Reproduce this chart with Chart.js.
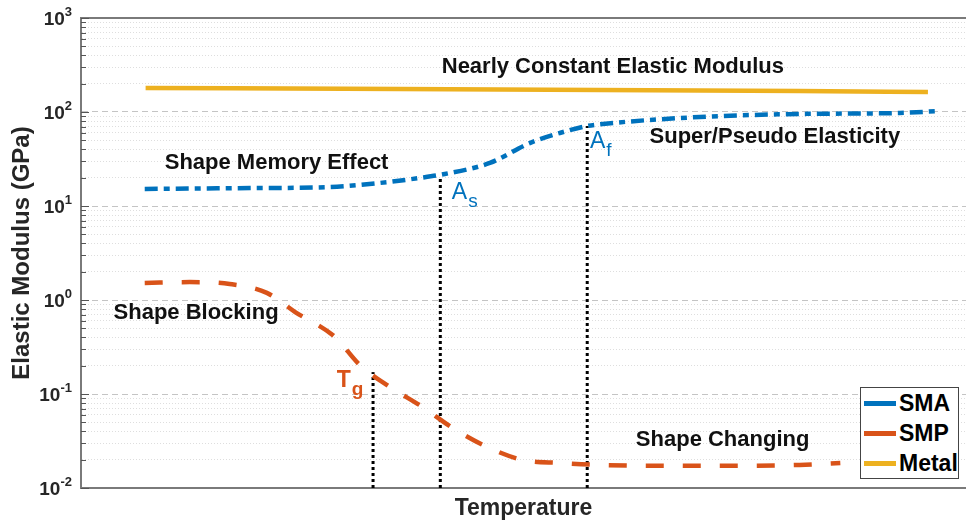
<!DOCTYPE html>
<html lang="en">
<head>
<meta charset="UTF-8">
<title>Elastic Modulus vs Temperature</title>
<script src="https://cdn.jsdelivr.net/npm/chart.js"></script>
<style>
    body { margin: 0; background: #fff; }
    #wrap { position: relative; width: 966px; height: 525px; }
    #legend {
        position: absolute; left: 860px; top: 387px; width: 97px; height: 90px;
        border: 1px solid #444; background: #fff;
        font: bold 23px "Liberation Sans", Arial, sans-serif; color: #000;
    }
    .item { display: flex; align-items: center; height: 30px; }
    .swatch { width: 32px; height: 5px; margin: 0 3px 0 3px; }
</style>
</head>
<body>
<div id="wrap">
    <canvas id="modulus-chart"></canvas>
    <div id="legend"></div>
</div>
<script>
    // temperature axis is unitless (0..100), moduli in GPa
    const metalT = [7.3, 36, 81.2, 95.7];
    const metalE = [180, 176, 167, 163];

    const smaT = [7.2, 19.1, 28.1, 33.8, 38.3, 41.1, 46.2, 50.7, 54.1, 57.2, 58.6, 69.9, 81.2, 92.5, 96.6];
    const smaE = [15.2, 15.5, 15.9, 17.6, 19.9, 21.9, 28.7, 46.7, 59.8, 71, 74, 88.5, 95.3, 97.6, 102];

    const smpT = [7.2, 12.3, 16.8, 21.0, 24.2, 28.7, 31.5, 34.9, 38.6, 42.0, 45.9, 49.9, 54.1, 58.6, 69.9, 81.2, 85.8];
    const smpE = [1.52, 1.55, 1.48, 1.19, 0.745, 0.404, 0.204, 0.119, 0.0727, 0.0435, 0.0273, 0.0199, 0.0185, 0.0176, 0.0172, 0.0176, 0.0185];

    // transition temperatures (dotted drop lines)
    const markerT = [33.0, 40.6, 57.2];
    const markerTop = [0.171, 20.8, 71];

    const yExponents = [-2, -1, 0, 1, 2, 3];
    const legendNames = ['SMA', 'SMP', 'Metal'];
    const colors = { SMA: '#0072BD', SMP: '#D95319', Metal: '#EDB120' };

    const FONT = '"Liberation Sans", Arial, sans-serif';
    Chart.defaults.font.family = FONT;

    function pts(xs, ys) {
        return xs.map((x, i) => ({ x: x, y: ys[i] }));
    }

    function isMajor(v) {
        const l = Math.log10(v);
        return Math.abs(l - Math.round(l)) < 1e-6;
    }

    // all log grid positions (decades + 2..9 in between)
    const yGridValues = [];
    yExponents.forEach((e, i) => {
        yGridValues.push(Math.pow(10, e));
        if (i < yExponents.length - 1) {
            for (let k = 2; k <= 9; k++) yGridValues.push(k * Math.pow(10, e));
        }
    });

    const datasets = [
        {
            label: 'SMA', data: pts(smaT, smaE), borderColor: colors.SMA,
            borderWidth: 4.5, borderDash: [13, 6, 6, 6], cubicInterpolationMode: 'monotone'
        },
        {
            label: 'SMP', data: pts(smpT, smpE), borderColor: colors.SMP,
            borderWidth: 4.5, borderDash: [18, 19], cubicInterpolationMode: 'monotone'
        },
        {
            label: 'Metal', data: pts(metalT, metalE), borderColor: colors.Metal,
            borderWidth: 4.5, cubicInterpolationMode: 'monotone'
        }
    ];
    markerT.forEach((t, i) => {
        datasets.push({
            label: 'marker' + i,
            data: [{ x: t, y: 0.01 }, { x: t, y: markerTop[i] }],
            borderColor: '#000', borderWidth: 3, borderDash: [3, 3]
        });
    });

    // text labels placed in data coordinates
    const notes = [
        { text: 'Nearly Constant Elastic Modulus', t: 60.1, e: 301 },
        { text: 'Super/Pseudo Elasticity', t: 78.4, e: 54.2 },
        { text: 'Shape Memory Effect', t: 22.1, e: 28.7 },
        { text: 'Shape Blocking', t: 13.0, e: 0.727 },
        { text: 'Shape Changing', t: 72.5, e: 0.0324 }
    ];
    const subNotes = [
        { main: 'T', sub: 'g', t: 28.9, e: 0.1186, color: colors.SMP, weight: 'bold' },
        { main: 'A', sub: 's', t: 41.9, e: 11.9, color: colors.SMA, weight: 'normal' },
        { main: 'A', sub: 'f', t: 57.5, e: 41.4, color: colors.SMA, weight: 'normal' }
    ];

    const labelsPlugin = {
        id: 'labelsPlugin',
        afterDatasetsDraw(chart) {
            const c = chart.ctx, xs = chart.scales.x, ys = chart.scales.y;
            c.save();
            c.fillStyle = '#111';
            c.font = 'bold 22px ' + FONT;
            c.textAlign = 'center';
            c.textBaseline = 'middle';
            notes.forEach(n => {
                c.fillText(n.text, xs.getPixelForValue(n.t), ys.getPixelForValue(n.e));
            });
            c.textAlign = 'left';
            c.textBaseline = 'alphabetic';
            subNotes.forEach(n => {
                const px = xs.getPixelForValue(n.t), py = ys.getPixelForValue(n.e);
                c.fillStyle = n.color;
                c.font = n.weight + ' 23px ' + FONT;
                c.fillText(n.main, px, py);
                const w = c.measureText(n.main).width;
                c.font = n.weight + ' 19px ' + FONT;
                c.fillText(n.sub, px + w + 1, py + 8);
            });
            c.restore();
        },
        afterDraw(chart) {
            // decade labels 10^n and inner tick marks
            const c = chart.ctx, ys = chart.scales.y, left = chart.chartArea.left;
            c.save();
            c.fillStyle = '#262626';
            c.textAlign = 'right';
            c.textBaseline = 'alphabetic';
            yExponents.forEach(e => {
                const py = ys.getPixelForValue(Math.pow(10, e));
                const sup = String(e);
                c.font = 'bold 13px ' + FONT;
                const w = c.measureText(sup).width;
                c.fillText(sup, 72, py - 2);
                c.font = 'bold 19px ' + FONT;
                c.fillText('10', 72 - w, py + 7);
            });
            c.strokeStyle = '#555';
            c.lineWidth = 1;
            yGridValues.forEach(v => {
                const py = Math.round(ys.getPixelForValue(v)) + 0.5;
                c.beginPath();
                c.moveTo(left, py);
                c.lineTo(left + (isMajor(v) ? 8 : 5), py);
                c.stroke();
            });
            c.restore();
        }
    };

    const chart = new Chart(document.getElementById('modulus-chart'), {
        type: 'line',
        data: { datasets: datasets },
        options: {
            responsive: true,
            maintainAspectRatio: false,
            animation: false,
            layout: { padding: { top: 18, right: 0, bottom: 0, left: 0 } },
            elements: { point: { radius: 0 }, line: { fill: false } },
            plugins: { legend: { display: false }, tooltip: { enabled: false } },
            scales: {
                x: {
                    type: 'linear', min: 0, max: 100,
                    ticks: { display: false },
                    grid: { display: false },
                    border: { color: '#7a7a7a', width: 2 },
                    title: {
                        display: true, text: 'Temperature', color: '#262626',
                        font: { size: 23, weight: 'bold' }, padding: { top: 0, bottom: 3 }
                    },
                    afterFit(s) { s.height = 37; }
                },
                x2: {
                    type: 'linear', position: 'top', min: 0, max: 100,
                    ticks: { display: false },
                    grid: { display: false, drawTicks: false },
                    border: { color: '#7a7a7a', width: 2 },
                    afterFit(s) { s.height = 0; }
                },
                y: {
                    type: 'logarithmic', min: 0.01, max: 1000,
                    ticks: { display: false },
                    afterBuildTicks(s) {
                        s.ticks = yGridValues.map(v => ({ value: v }));
                    },
                    grid: {
                        drawTicks: false,
                        lineWidth: 1,
                        color: ctx => (ctx.tick && isMajor(ctx.tick.value)) ? '#c4c4c4' : '#dedede'
                    },
                    border: {
                        color: '#7a7a7a', width: 2,
                        dash: ctx => {
                            if (!ctx.tick) return [];
                            return isMajor(ctx.tick.value) ? [6, 4] : [1, 2];
                        }
                    },
                    title: {
                        display: true, text: 'Elastic Modulus (GPa)', color: '#262626',
                        font: { size: 24, weight: 'bold' }, padding: { top: 8, bottom: 0 }
                    },
                    afterFit(s) { s.width = 81; }
                }
            }
        },
        plugins: [labelsPlugin]
    });

    // legend box inside the plot, bottom right
    const legendBox = document.getElementById('legend');
    legendNames.forEach(name => {
        const row = document.createElement('div');
        row.className = 'item';
        const sw = document.createElement('span');
        sw.className = 'swatch';
        sw.style.background = colors[name];
        const txt = document.createElement('span');
        txt.textContent = name;
        row.appendChild(sw);
        row.appendChild(txt);
        legendBox.appendChild(row);
    });
</script>
</body>
</html>
